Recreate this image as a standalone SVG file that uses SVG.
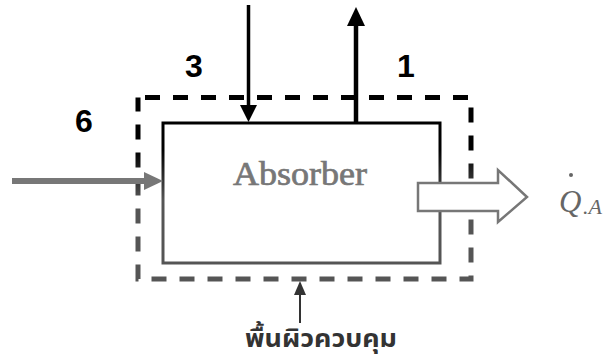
<svg xmlns="http://www.w3.org/2000/svg" width="604" height="359" viewBox="0 0 604 359">
  <defs>
    <linearGradient id="fade" gradientUnits="userSpaceOnUse" x1="0" y1="150" x2="0" y2="200">
      <stop offset="0" stop-color="#000"/>
      <stop offset="1" stop-color="#555"/>
    </linearGradient>
  </defs>
  <style>
    .num { font-family: "Liberation Sans", Arial, sans-serif; font-weight: bold; font-size: 32px; fill: #000; text-anchor: middle; }
    .lbl { font-family: "Liberation Serif", "Times New Roman", serif; font-size: 33px; fill: #777; stroke: #777; stroke-width: 0.7; }
    .q { font-family: "Liberation Serif", "Times New Roman", serif; font-style: italic; fill: #666; }
    .thai { font-family: "Noto Sans Thai", "Noto Sans", "DejaVu Sans", sans-serif; font-weight: bold; font-size: 25px; fill: #333; }
    .dash { fill: none; stroke: url(#fade); stroke-width: 5; stroke-dasharray: 15 13; }
  </style>
  <rect width="604" height="359" fill="#fff"/>

  <g id="control-volume">
    <path class="dash" d="M145,97.5 H471 V279 H138 V97.5"/>
  </g>

  <g id="absorber">
    <rect x="163" y="123" width="277" height="140" fill="none" stroke="url(#fade)" stroke-width="3"/>
    <text class="lbl" x="233" y="185" textLength="134" lengthAdjust="spacingAndGlyphs">Absorber</text>
  </g>

  <g id="connectors">
    <g id="stream-3">
      <line x1="248.5" y1="5" x2="248.5" y2="108" stroke="#000" stroke-width="3.5"/>
      <polygon points="240,105 257,105 248.5,122" fill="#000"/>
    </g>
    <g id="stream-1">
      <line x1="356" y1="123" x2="356" y2="22" stroke="#000" stroke-width="4.5"/>
      <polygon points="347,26 365,26 356,7" fill="#000"/>
    </g>
    <g id="stream-6">
      <line x1="12" y1="181" x2="148" y2="181" stroke="#777" stroke-width="6"/>
      <polygon points="144,172 163,181 144,190" fill="#777"/>
    </g>
    <g id="heat-out">
      <polygon points="418,183 498,183 498,170 527,197 498,222 498,211 418,211" fill="#fff" stroke="#777" stroke-width="2.5" stroke-linejoin="miter"/>
    </g>
    <g id="surface-pointer">
      <line x1="300" y1="323" x2="300" y2="290" stroke="#333" stroke-width="2"/>
      <polygon points="294,295 306,295 300,281" fill="#333"/>
    </g>
  </g>

  <g id="labels">
    <text class="num" x="194" y="77">3</text>
    <text class="num" x="84" y="132">6</text>
    <text class="num" x="406" y="77">1</text>
    <text class="q" x="559" y="212" font-size="31">Q</text>
    <circle cx="571" cy="175" r="2" fill="#666"/>
    <text class="q" x="583" y="214" font-size="22">.A</text>
    <text class="thai" x="245" y="347" textLength="152" lengthAdjust="spacingAndGlyphs">พื้นผิวควบคุม</text>
  </g>
</svg>
